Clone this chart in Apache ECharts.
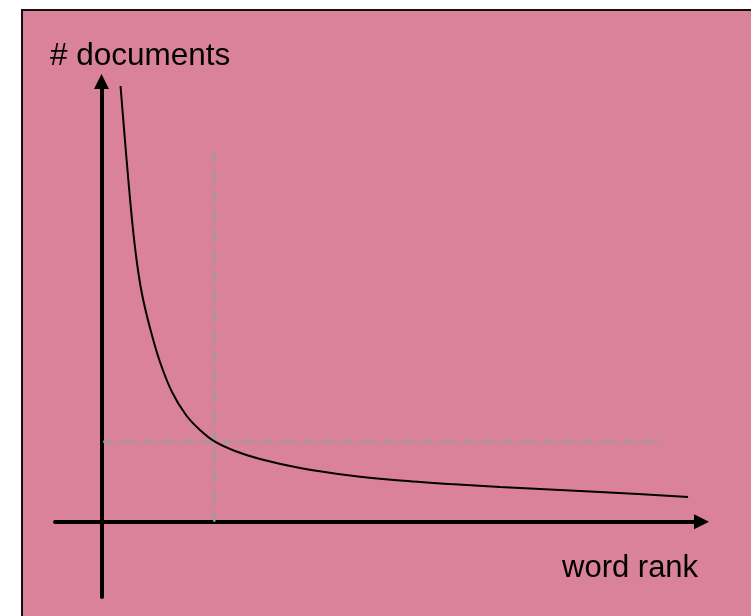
<!DOCTYPE html>
<html>
<head>
<meta charset="utf-8">
<script src="https://cdn.jsdelivr.net/npm/echarts@6/dist/echarts.min.js"></script>
<style>
html,body{margin:0;padding:0;background:#fff;}
#c{width:751px;height:616px;}
</style>
</head>
<body>
<div id="c"></div>
<script>
// word rank (x) and # documents (y), in arbitrary units
var rank = [3.37, 4.08, 4.79, 5.50, 6.29, 7.18, 8.60, 10.37, 12.50, 14.98, 17.46, 20.12, 23.67, 28.10, 35.20, 44.06, 52.93, 61.79, 70.66, 88.39, 104.0];
var docs = [43.57, 38.67, 33.97, 29.67, 25.87, 22.77, 19.37, 15.97, 12.97, 10.67, 9.17, 8.00, 7.07, 6.27, 5.37, 4.62, 4.12, 3.77, 3.47, 2.97, 2.47];
// reference guide lines
var guideRank = 20;
var guideDocs = 8;
var guideHX = [0.3, 99.4];
var guideVY = [0, 37.2];
var axisNames = ['# documents', 'word rank'];

var curve = rank.map(function (r, i) { return [r, docs[i]]; });
var guideStyle = { color: '#9c9c9c', width: 2.5, type: [10, 4, 2, 4] };

var chart = echarts.init(document.getElementById('c'));
chart.setOption({
  backgroundColor: '#ffffff',
  animation: false,
  graphic: [
    { type: 'rect', z: -100, shape: { x: 22, y: 10, width: 780, height: 660 },
      style: { fill: '#DA8299', stroke: '#111', lineWidth: 2 } },
    { type: 'text', left: 50, top: 40, z: 10,
      style: { text: axisNames[0], font: '31.5px "Liberation Sans", Arial, sans-serif', fill: '#000' } },
    { type: 'text', left: 562, top: 553, z: 10,
      style: { text: axisNames[1], font: '31px "Liberation Sans", Arial, sans-serif', fill: '#000' } }
  ],
  grid: { left: 55, right: 49.5, top: 81.5, bottom: 19 },
  xAxis: {
    type: 'value', min: -8.245, max: 106.38,
    axisLine: { onZero: true, lineStyle: { color: '#000', width: 4 }, symbol: ['none', 'triangle'], symbolSize: [15, 15] },
    axisTick: { show: false }, axisLabel: { show: false }, splitLine: { show: false }
  },
  yAxis: {
    type: 'value', min: -7.53, max: 44.02,
    axisLine: { onZero: true, lineStyle: { color: '#000', width: 4 }, symbol: ['none', 'triangle'], symbolSize: [15, 15] },
    axisTick: { show: false }, axisLabel: { show: false }, splitLine: { show: false }
  },
  series: [
    { type: 'line', data: [[guideHX[0], guideDocs], [guideHX[1], guideDocs]], symbol: 'none', lineStyle: guideStyle, z: 1 },
    { type: 'line', data: [[guideRank, guideVY[0]], [guideRank, guideVY[1]]], symbol: 'none', lineStyle: guideStyle, z: 1 },
    { type: 'line', data: curve, symbol: 'none', smooth: 0.3, lineStyle: { color: '#000', width: 2 }, z: 3 }
  ]
});
</script>
</body>
</html>
